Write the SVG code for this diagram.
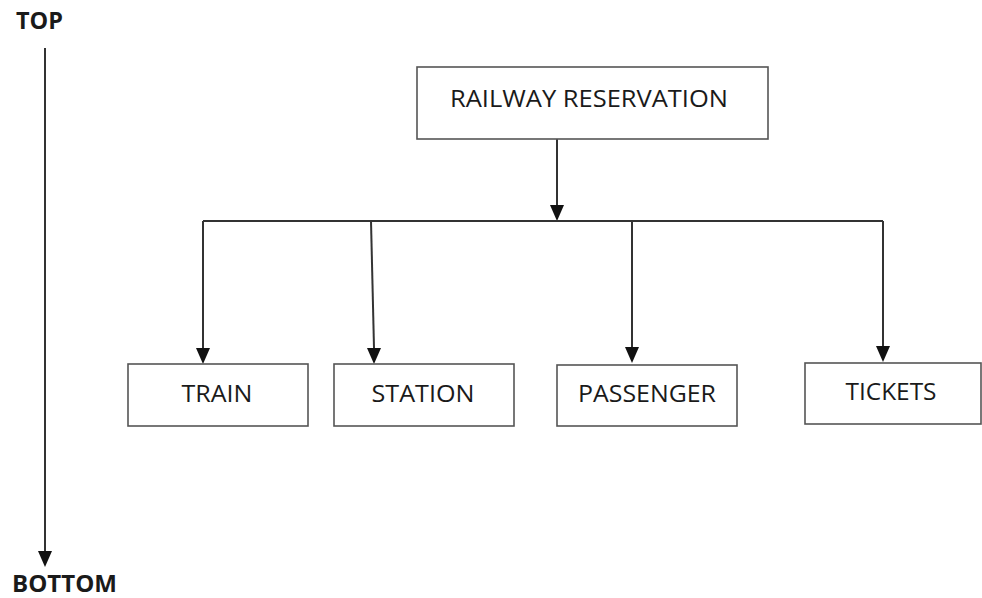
<svg xmlns="http://www.w3.org/2000/svg" width="982" height="598" viewBox="0 0 982 598">
<defs>
<style>
.box{fill:#fff;stroke:#555;stroke-width:1.6}
.lbl{font-family:"Open Sans","Liberation Sans",sans-serif;font-size:24px;fill:#1a1a1a;text-anchor:middle}
.ax{font-family:"Open Sans","Liberation Sans",sans-serif;font-size:23px;font-weight:bold;fill:#1a1a1a}
.ln{stroke:#333;stroke-width:2;fill:none}
</style>
</defs>
<rect width="982" height="598" fill="#fff"/>
<g id="axis">
<text class="ax" x="16" y="29" textLength="47" lengthAdjust="spacingAndGlyphs">TOP</text>
<line class="ln" x1="45" y1="48" x2="45" y2="551"/>
<path d="M38,551 L52,551 L45,567 Z" fill="#111"/>
<text class="ax" x="12" y="592" textLength="105" lengthAdjust="spacingAndGlyphs">BOTTOM</text>
</g>
<g id="connectors">
<line class="ln" x1="557" y1="139" x2="557" y2="205"/>
<path d="M550,205 L564,205 L557,221 Z" fill="#111"/>
<line class="ln" x1="203" y1="221" x2="883" y2="221"/>
<line class="ln" x1="203" y1="221" x2="203" y2="348"/>
<path d="M196,348 L210,348 L203,364 Z" fill="#111"/>
<line class="ln" x1="371" y1="221" x2="374" y2="348"/>
<path d="M367,348 L381,348 L374,364 Z" fill="#111"/>
<line class="ln" x1="632" y1="221" x2="632" y2="347"/>
<path d="M625,347 L639,347 L632,363 Z" fill="#111"/>
<line class="ln" x1="883" y1="221" x2="883" y2="346"/>
<path d="M876,346 L890,346 L883,362 Z" fill="#111"/>
</g>
<g id="railway-reservation">
<rect class="box" x="417" y="67" width="351" height="72"/>
<text class="lbl" x="589" y="107" textLength="278" lengthAdjust="spacingAndGlyphs">RAILWAY RESERVATION</text>
</g>
<g id="train">
<rect class="box" x="128" y="364" width="180" height="62"/>
<text class="lbl" x="217" y="402" textLength="71" lengthAdjust="spacingAndGlyphs">TRAIN</text>
</g>
<g id="station">
<rect class="box" x="334" y="364" width="180" height="62"/>
<text class="lbl" x="423" y="402" textLength="103" lengthAdjust="spacingAndGlyphs">STATION</text>
</g>
<g id="passenger">
<rect class="box" x="557" y="365" width="180" height="61"/>
<text class="lbl" x="647" y="402" textLength="138" lengthAdjust="spacingAndGlyphs">PASSENGER</text>
</g>
<g id="tickets">
<rect class="box" x="805" y="363" width="176" height="61"/>
<text class="lbl" x="891" y="400" textLength="91" lengthAdjust="spacingAndGlyphs">TICKETS</text>
</g>
</svg>
